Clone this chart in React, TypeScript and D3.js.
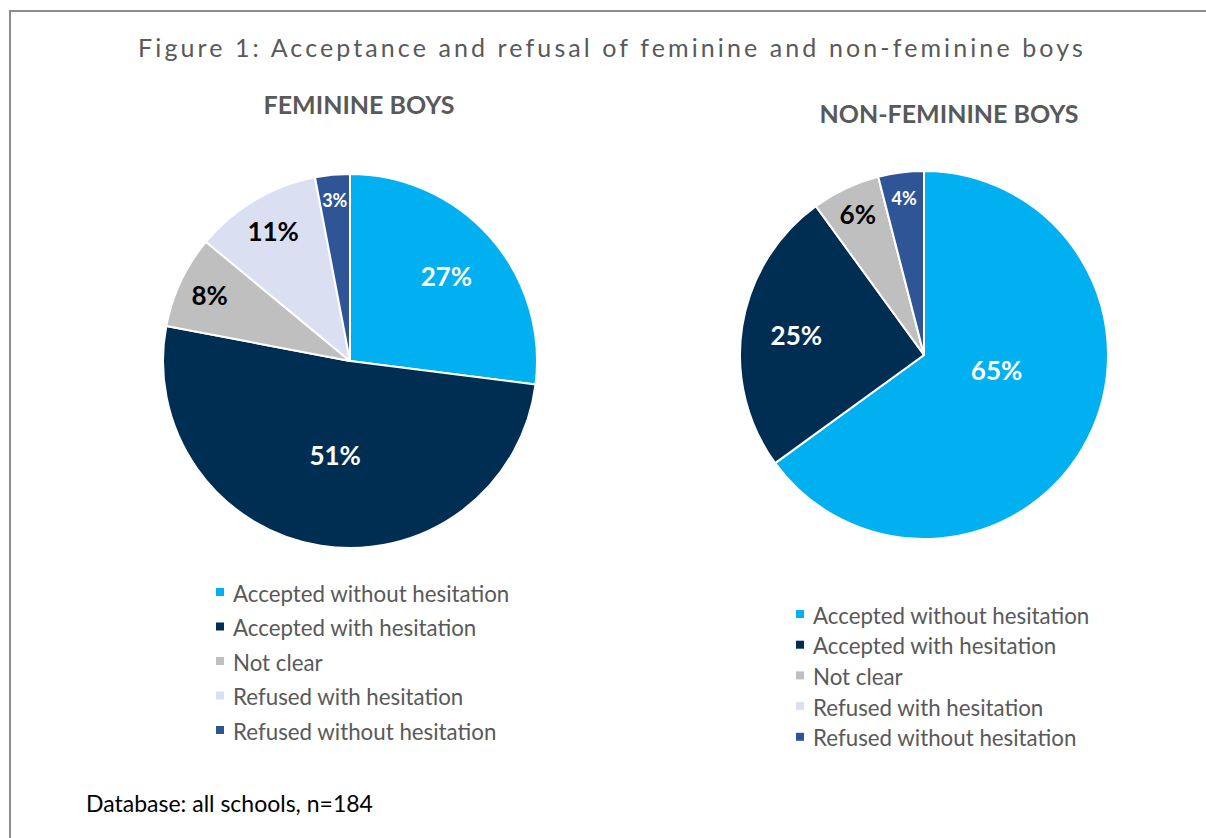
import React from "react";
import * as d3 from "d3";

const categories = [
  "Accepted without hesitation",
  "Accepted with hesitation",
  "Not clear",
  "Refused with hesitation",
  "Refused without hesitation",
];
const colors = ["#00B0F0", "#002D52", "#BFBFBF", "#DAE0F2", "#2F5597"];
const labelColors = ["#FFFFFF", "#FFFFFF", "#000000", "#000000", "#FFFFFF"];
const feminineValues = [27, 51, 8, 11, 3];
const nonFeminineValues = [65, 25, 6, 0, 4];

const titleText = "Figure 1: Acceptance and refusal of feminine and non-feminine boys";
const subtitleLeft = "FEMININE BOYS";
const subtitleRight = "NON-FEMININE BOYS";
const footnote = "Database: all schools, n=184";

const FONT = "Lato, 'Open Sans', sans-serif";

function Pie({ values, cx, cy, r }: { values: number[]; cx: number; cy: number; r: number }) {
  const total = d3.sum(values);
  const pie = d3.pie<number>().sort(null).value((d) => d);
  const arcs = pie(values);
  const arc = d3.arc<d3.PieArcDatum<number>>().innerRadius(0).outerRadius(r);
  return (
    <g transform={`translate(${cx},${cy})`}>
      {arcs.map((a, i) => (
        <path key={i} d={arc(a) || ""} fill={colors[i]} stroke="#FFFFFF" strokeWidth={2} strokeLinejoin="round" />
      ))}
      {arcs.map((a, i) => {
        if (a.value === 0) return null;
        const p = a.value / total;
        const f = 0.89 - 0.75 * p;
        const lr = r * f;
        // very large slices: Excel pulls the label toward the slice's start
        const shift = p > 0.6 ? -(a.endAngle - a.startAngle) * 0.066 : 0;
        const mid = (a.startAngle + a.endAngle) / 2 + shift;
        const x = Math.sin(mid) * lr;
        const y = -Math.cos(mid) * lr;
        const small = p < 0.05;
        return (
          <text
            key={"l" + i}
            x={x}
            y={y}
            textAnchor="middle"
            dominantBaseline="central"
            fontFamily={FONT}
            fontWeight={700}
            fontSize={small ? 18 : 26}
            fill={labelColors[i]}
          >
            {`${a.value}%`}
          </text>
        );
      })}
    </g>
  );
}

function Legend({ x, y, step }: { x: number; y: number; step: number }) {
  return (
    <g>
      {categories.map((c, i) => (
        <g key={c} transform={`translate(${x},${y + i * step})`}>
          <rect x={-17} y={-4} width={8} height={8} fill={colors[i]} />
          <text x={0} y={1} dominantBaseline="central" fontFamily={FONT} fontSize={22.3} fill="#595959">
            {c}
          </text>
        </g>
      ))}
    </g>
  );
}

export default function App() {
  return (
    <svg
      width={1206}
      height={838}
      style={{ position: "absolute", left: 0, top: 0, background: "#FFFFFF" }}
    >
      <rect x={0} y={0} width={1206} height={838} fill="#FFFFFF" />
      <line x1={10} y1={11} x2={1206} y2={11} stroke="#8C8C8C" strokeWidth={2} />
      <line x1={10} y1={10} x2={10} y2={838} stroke="#8C8C8C" strokeWidth={2} />
      <text
        x={612}
        y={47}
        textAnchor="middle"
        dominantBaseline="central"
        fontFamily={FONT}
        fontSize={25}
        letterSpacing={3.1}
        fill="#595959"
      >
        {titleText}
      </text>
      <text x={359} y={104} textAnchor="middle" dominantBaseline="central" fontFamily={FONT} fontWeight={700} fontSize={25} fill="#595959">
        {subtitleLeft}
      </text>
      <text x={949} y={113} textAnchor="middle" dominantBaseline="central" fontFamily={FONT} fontWeight={700} fontSize={25} fill="#595959">
        {subtitleRight}
      </text>
      <Pie values={feminineValues} cx={350} cy={361} r={187} />
      <Pie values={nonFeminineValues} cx={924} cy={355} r={184} />
      <Legend x={233} y={592} step={34.5} />
      <Legend x={813} y={614} step={30.7} />
      <text x={86} y={803} dominantBaseline="central" fontFamily={FONT} fontSize={23} fill="#000000">
        {footnote}
      </text>
    </svg>
  );
}
